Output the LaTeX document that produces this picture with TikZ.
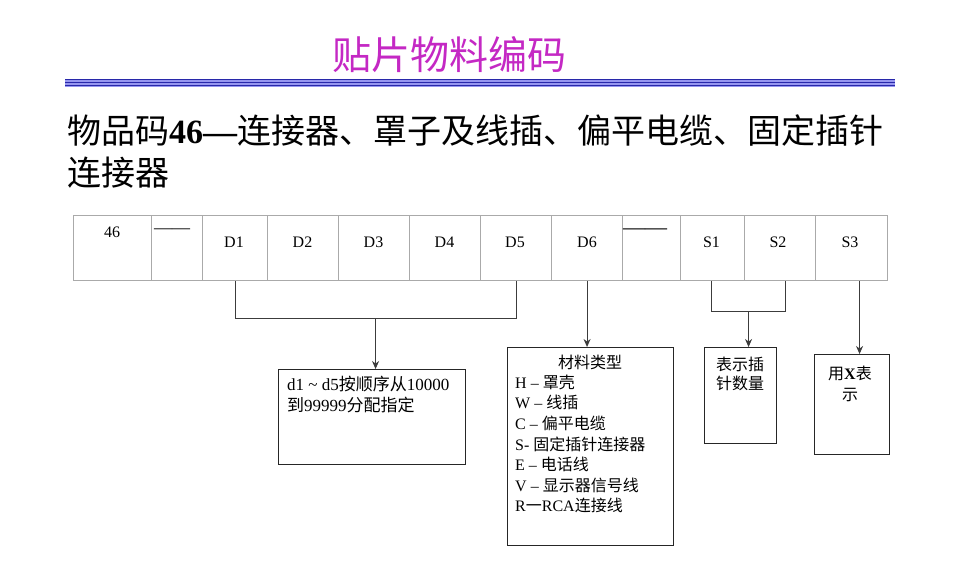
\documentclass[tikz,border=0pt]{standalone}
\usepackage{fontspec}
\setmainfont{Liberation Serif}
\newfontfamily\cjk{Noto Sans CJK SC}
\usetikzlibrary{arrows.meta,calc}
\definecolor{titlemag}{RGB}{196,40,196}
\definecolor{bandlight}{RGB}{150,150,240}
\definecolor{banddark}{RGB}{40,40,170}
\definecolor{cellgray}{RGB}{170,170,170}
\definecolor{linegray}{RGB}{60,60,60}
\tikzset{
  cell/.style={draw=cellgray, line width=1.1pt, anchor=north west, inner sep=0pt, minimum height=65pt},
  celltxt/.style={anchor=base, inner sep=0pt, font=\fontsize{16}{16}\selectfont},
  dashtxt/.style={anchor=base west, inner sep=0pt},
  infobox/.style={draw=black!85, line width=0.9pt, anchor=north west, inner sep=0pt},
  boxtxt/.style={anchor=base west, inner sep=0pt, font=\fontsize{16}{16}\selectfont},
  ctxt/.style={anchor=base, inner sep=0pt, font=\fontsize{16}{16}\selectfont},
  conn/.style={draw=linegray, line width=0.9pt},
  arr/.style={conn, -{Stealth[length=8pt,width=7pt]}},
}
\begin{document}
\begin{tikzpicture}[x=1pt,y=-1pt]
\useasboundingbox[fill=white] (0,0) rectangle (960,586);
% title
\node[anchor=base, inner sep=0pt, text=titlemag, font=\cjk\fontsize{39}{39}\selectfont] (title) at (449,70) {贴片物料编码};
% blue band
\fill[bandlight] (65,78.7) rectangle (895,86.7);
\foreach \yy in {79.6,82.7,85.8} \draw[banddark, line width=1.3pt] (65,\yy) -- (895,\yy);
% subtitle
\node[anchor=base west, inner sep=0pt, font=\fontsize{34}{34}\selectfont] (sub1) at (67,143) {{\cjk 物品码}\textbf{46—}{\cjk 连接器、罩子及线插、偏平电缆、固定插针}};
\node[anchor=base west, inner sep=0pt, font=\cjk\fontsize{34}{34}\selectfont] (sub2) at (67,185) {连接器};
% table cells
\node[cell, minimum width=78pt] (c46) at (73,215) {};
\node[cell, minimum width=51pt] (cdash1) at (151,215) {};
\node[cell, minimum width=65pt] (cD1) at (202,215) {};
\node[cell, minimum width=71pt] (cD2) at (267,215) {};
\node[cell, minimum width=71pt] (cD3) at (338,215) {};
\node[cell, minimum width=71pt] (cD4) at (409,215) {};
\node[cell, minimum width=71pt] (cD5) at (480,215) {};
\node[cell, minimum width=71pt] (cD6) at (551,215) {};
\node[cell, minimum width=58pt] (cdash2) at (622,215) {};
\node[cell, minimum width=64pt] (cS1) at (680,215) {};
\node[cell, minimum width=71pt] (cS2) at (744,215) {};
\node[cell, minimum width=72pt] (cS3) at (815,215) {};
% cell labels
\node[celltxt] (t46) at (112,237) {46};
\node[dashtxt, font=\fontsize{18}{18}\selectfont] (td1) at (154,233.3) {——};
\node[celltxt] (tD1) at (234,247) {D1};
\node[celltxt] (tD2) at (302.5,247) {D2};
\node[celltxt] (tD3) at (373.5,247) {D3};
\node[celltxt] (tD4) at (444.5,247) {D4};
\node[celltxt] (tD5) at (515,247) {D5};
\node[celltxt] (tD6) at (587,247) {D6};
\node[dashtxt, font=\fontsize{22}{22}\selectfont] (td2) at (623,234.3) {——};
\node[celltxt] (tS1) at (711.5,247) {S1};
\node[celltxt] (tS2) at (778,247) {S2};
\node[celltxt] (tS3) at (850,247) {S3};
% info boxes
\node[infobox, minimum width=187pt, minimum height=95pt] (boxd) at (278,369) {};
\node[infobox, minimum width=166pt, minimum height=198pt] (boxm) at (507,347) {};
\node[infobox, minimum width=72pt, minimum height=96pt] (boxs) at (704,347) {};
\node[infobox, minimum width=75pt, minimum height=100pt] (boxx) at (814,354) {};
% box d text
\node[boxtxt, font=\fontsize{17}{17}\selectfont] (d1l1) at (287,390.5) {d1 \textasciitilde{} d5{\cjk 按顺序从}10000};
\node[boxtxt, font=\fontsize{17}{17}\selectfont] (d1l2) at (287,411.5) {{\cjk 到}99999{\cjk 分配指定}};
% material text
\node[ctxt] (m0) at (590,368.7) {\cjk 材料类型};
\node[boxtxt] (m1) at (515,388.7) {H – {\cjk 罩壳}};
\node[boxtxt] (m2) at (515,408.7) {W – {\cjk 线插}};
\node[boxtxt] (m3) at (515,429.7) {C – {\cjk 偏平电缆}};
\node[boxtxt] (m4) at (515,450.7) {S- {\cjk 固定插针连接器}};
\node[boxtxt] (m5) at (515,470.7) {E – {\cjk 电话线}};
\node[boxtxt] (m6) at (515,491.7) {V – {\cjk 显示器信号线}};
\node[boxtxt] (m7) at (515,511.7) {R{\cjk 一}RCA{\cjk 连接线}};
% pin box text
\node[ctxt] (s1l1) at (740,370.7) {\cjk 表示插};
\node[ctxt] (s1l2) at (740,389.7) {\cjk 针数量};
% X box text
\node[ctxt] (x1l1) at (850,379.7) {{\cjk 用}\textbf{X}{\cjk 表}};
\node[ctxt] (x1l2) at (850,400.7) {\cjk 示};
% connectors
\coordinate (dmid) at ($(cD1.south)!0.5!(cD5.south)+(0,37)$);
\draw[conn] (cD1.south) -- ++(0,37) -| (cD5.south);
\draw[arr] (dmid) -- (dmid |- boxd.north);
\draw[arr] (cD6.south) -- (cD6.south |- boxm.north);
\coordinate (s1p) at ($(cS1.south)+(-1,0)$);
\coordinate (s2p) at ($(cS2.south)+(5.5,0)$);
\coordinate (smid) at ($(s1p)!0.5!(s2p)+(0,30)$);
\draw[conn] (s1p) -- ++(0,30) -| (s2p);
\draw[arr] (smid) -- (smid |- boxs.north);
\coordinate (s3p) at ($(cS3.south)+(8,0)$);
\draw[arr] (s3p) -- (s3p |- boxx.north);
\end{tikzpicture}
\end{document}
